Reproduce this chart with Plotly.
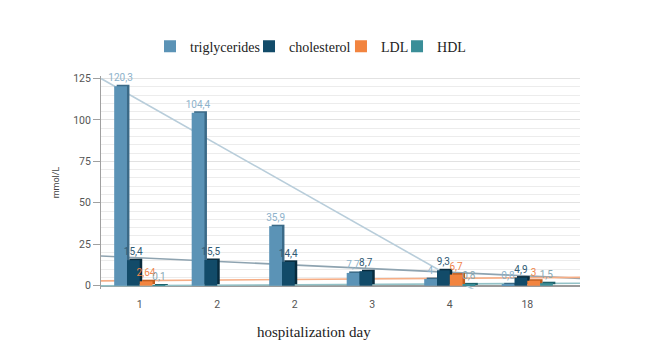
import numpy as np
import plotly.graph_objects as go

# ---- data ----
days = ["1", "2", "2", "3", "4", "18"]
triglycerides = [120.3, 104.4, 35.9, 7.7, 4, 0.8]
cholesterol = [15.4, 15.5, 14.4, 8.7, 9.3, 4.9]
ldl = [2.64, None, None, None, 6.7, 3]
hdl = [0.1, None, None, None, 0.8, 1.5]
y_ticks = [0, 25, 50, 75, 100, 125]

x = np.arange(1, len(days) + 1)

# name, values, front colour, side colour, label colour, trend colour
series = [
    ("triglycerides", triglycerides, "#5b93b6", "#3b6a87", "#8db2cb", "#b8cdda"),
    ("cholesterol", cholesterol, "#124b69", "#082b3d", "#2f5a74", "#8ea3b0"),
    ("LDL", ldl, "#f2843f", "#c25d1e", "#f0854a", "#f6ae86"),
    ("HDL", hdl, "#3a8e98", "#1f636c", "#88a9b4", "#93c2c7"),
]
offsets = [-0.33, -0.165, 0.0, 0.165]
W = 0.165
XR = [0.5, 6.68]
YR = [-2, 126.5]
legend_x = [0.1023, 0.309, 0.501, 0.618]


def fmt(v):
    return "" if v is None else f"{v:g}".replace(".", ",")


fig = go.Figure()

# linear trendlines (main axes, drawn beneath the bars)
for name, vals, front, side, lab, trend in series:
    xs = np.array([xi for xi, v in zip(x, vals) if v is not None], dtype=float)
    ys = np.array([v for v in vals if v is not None], dtype=float)
    k, b = np.polyfit(xs, ys, 1)
    xr = np.array(XR)
    fig.add_trace(go.Scatter(
        x=xr, y=k * xr + b, mode="lines",
        line=dict(color=trend, width=1.6),
        showlegend=False, hoverinfo="skip", xaxis="x", yaxis="y",
    ))

# bars with a darker side face (overlay axes, on top of the trendlines)
for i, (name, vals, front, side, lab, trend) in enumerate(series):
    fig.add_trace(go.Bar(
        x=x, y=vals, base=0.9, width=W, offset=offsets[i] + 0.032,
        marker=dict(color=side, line=dict(width=0)),
        showlegend=False, hoverinfo="skip", xaxis="x2", yaxis="y2",
    ))
    fig.add_trace(go.Bar(
        x=x, y=vals, width=W, offset=offsets[i], name=name,
        marker=dict(color=front, line=dict(width=0)),
        text=[fmt(v) for v in vals], textposition="outside",
        textangle=0, constraintext="none", cliponaxis=False,
        textfont=dict(family="Roboto", size=10, color=lab),
        legend="legend" if i == 0 else f"legend{i + 1}",
        xaxis="x2", yaxis="y2",
    ))

legend_common = dict(
    y=1.138, xanchor="left", yanchor="middle", orientation="h",
    bgcolor="rgba(0,0,0,0)",
    font=dict(family="Liberation Serif", size=14, color="#222"),
)

fig.update_layout(
    width=672, height=353,
    margin=dict(l=101, r=92, t=76, b=64),
    paper_bgcolor="white", plot_bgcolor="white",
    barmode="overlay",
    xaxis=dict(
        range=XR, tickvals=list(x), ticktext=days,
        showgrid=False, zeroline=False, showline=False,
        ticks="outside", ticklen=5, tickcolor="rgba(0,0,0,0)",
        tickfont=dict(family="Roboto", size=10.5, color="#555"),
    ),
    yaxis=dict(
        range=YR, tickvals=y_ticks,
        showgrid=True, gridcolor="#e2e2e2", gridwidth=1,
        minor=dict(dtick=5, tick0=0, showgrid=True, gridcolor="#ececec"),
        zeroline=True, zerolinecolor="#9a9a9a", zerolinewidth=2,
        showline=True, linecolor="#a0a0a0", linewidth=1,
        ticks="outside", ticklen=7, tickcolor="#a0a0a0",
        tickfont=dict(family="Roboto", size=10.5, color="#555"),
        title=dict(text="mmol/L", standoff=12,
                   font=dict(family="Roboto", size=9, color="#444")),
    ),
    xaxis2=dict(overlaying="x", anchor="y2", range=XR, visible=False),
    yaxis2=dict(overlaying="y", anchor="x2", range=YR, visible=False),
    legend=dict(x=legend_x[0], **legend_common),
    legend2=dict(x=legend_x[1], **legend_common),
    legend3=dict(x=legend_x[2], **legend_common),
    legend4=dict(x=legend_x[3], **legend_common),
    annotations=[dict(
        text="hospitalization day", xref="paper", yref="paper",
        x=0.445, y=-0.202, xanchor="center", yanchor="middle",
        showarrow=False,
        font=dict(family="Liberation Serif", size=15, color="#222"),
    )],
)

fig.write_html("out.html")
